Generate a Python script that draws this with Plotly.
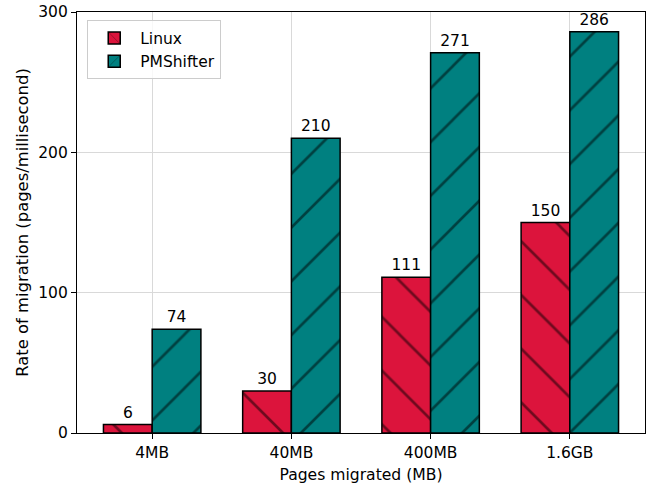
import plotly.graph_objects as go

categories = ["4MB", "40MB", "400MB", "1.6GB"]
linux = [6, 30, 111, 150]
pmshifter = [74, 210, 271, 286]

FONT = "DejaVu Sans"
fig = go.Figure()
fig.add_trace(go.Bar(
    x=categories, y=linux, name="Linux",
    marker=dict(color="#DC143C", line=dict(color="black", width=1.5),
                pattern=dict(shape="\\", fgcolor="black", bgcolor="#DC143C",
                             size=38, solidity=0.07)),
    text=[str(v) for v in linux], textposition="outside",
    textfont=dict(size=15.5, color="black", family=FONT), cliponaxis=False,
))
fig.add_trace(go.Bar(
    x=categories, y=pmshifter, name="PMShifter",
    marker=dict(color="#008080", line=dict(color="black", width=1.5),
                pattern=dict(shape="/", fgcolor="black", bgcolor="#008080",
                             size=38, solidity=0.07)),
    text=[str(v) for v in pmshifter], textposition="outside",
    textfont=dict(size=15.5, color="black", family=FONT), cliponaxis=False,
))
fig.update_layout(
    width=649, height=485,
    margin=dict(l=77, r=4, t=12, b=52),
    paper_bgcolor="white", plot_bgcolor="white",
    font=dict(family=FONT, size=15.5, color="black"),
    barmode="group", bargap=0.3, bargroupgap=0,
    showlegend=True,
    legend=dict(x=0.018, y=0.98, xanchor="left", yanchor="top",
                bgcolor="rgba(255,255,255,0.8)", bordercolor="#cccccc", borderwidth=1,
                font=dict(size=15.5, family=FONT), itemwidth=42),
    xaxis=dict(range=[-0.54, 3.54], showgrid=True, gridcolor="#d9d9d9", gridwidth=1,
               showline=True, linecolor="black", linewidth=1.2, mirror=True,
               ticks="outside", ticklen=5, tickcolor="black",
               title=dict(text="Pages migrated (MB)", standoff=8, font=dict(size=15.6))),
    yaxis=dict(range=[0, 300], tickvals=[0, 100, 200, 300], showgrid=True,
               gridcolor="#d9d9d9", gridwidth=1, zeroline=False,
               showline=True, linecolor="black", linewidth=1.2, mirror=True,
               ticks="outside", ticklen=5, tickcolor="black",
               title=dict(text="Rate of migration (pages/millisecond)", standoff=5, font=dict(size=16.4))),
)
fig.write_html("out.html")
